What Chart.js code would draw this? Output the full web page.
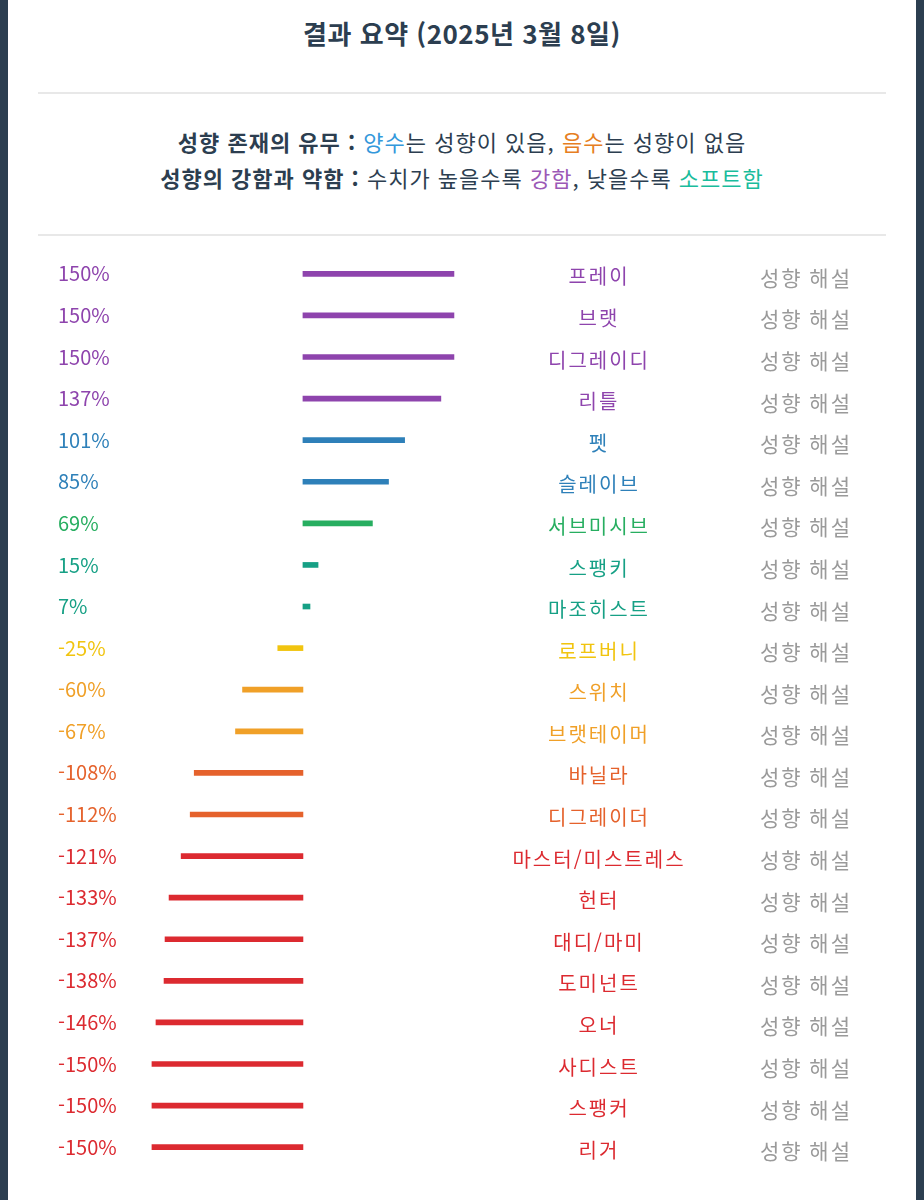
<!DOCTYPE html>
<html lang="ko">
<head>
<meta charset="utf-8">
<title>결과 요약</title>
<script src="https://cdn.jsdelivr.net/npm/chart.js@4"></script>
<style>
  html, body { margin: 0; padding: 0; }
  body { width: 924px; height: 1200px; background: #2c3e50; position: relative; overflow: hidden;
         font-family: "Noto Sans CJK KR", "Noto Sans", sans-serif; }
  .page { position: absolute; left: 8px; top: 0; width: 908px; height: 1200px; background: #fff; }
  h1 { position: absolute; left: 0; width: 100%; top: 13px; margin: 0; text-align: center;
       font-size: 26px; font-weight: bold; color: #2c3e50; line-height: 40px; letter-spacing: 0.5px; }
  .line { position: absolute; left: 30px; width: 848px; height: 2px; background: #e8e8e8; }
  .desc { position: absolute; left: 0; width: 100%; top: 123px; text-align: center; color: #2c3e50;
          font-size: 22px; line-height: 36px; letter-spacing: 1px; }
  .desc b { font-weight: bold; }
  #canvas { position: absolute; left: 0; top: 253px; }
</style>
</head>
<body>
<div class="page">
  <h1>결과 요약 (2025년 3월 8일)</h1>
  <div class="line" style="top:92px"></div>
  <div class="desc">
    <div><b>성향 존재의 유무 :</b> <span style="color:#3498db">양수</span>는 성향이 있음, <span style="color:#e67e22">음수</span>는 성향이 없음</div>
    <div><b>성향의 강함과 약함 :</b> 수치가 높을수록 <span style="color:#9b59b6">강함</span>, 낮을수록 <span style="color:#1abc9c">소프트함</span></div>
  </div>
  <div class="line" style="top:234px"></div>
  <canvas id="canvas" width="908" height="915"></canvas>
</div>

<script>
// 성향 이름
const names = ['프레이', '브랫', '디그레이디', '리틀', '펫', '슬레이브', '서브미시브', '스팽키', '마조히스트',
  '로프버니', '스위치', '브랫테이머', '바닐라', '디그레이더', '마스터/미스트레스', '헌터', '대디/마미',
  '도미넌트', '오너', '사디스트', '스팽커', '리거'];
// 수치 (%)
const values = [150, 150, 150, 137, 101, 85, 69, 15, 7, -25, -60, -67, -108, -112, -121, -133, -137, -138, -146, -150, -150, -150];
// 행별 색
const colors = ['#8e44ad', '#8e44ad', '#8e44ad', '#8e44ad', '#2e80b9', '#2e80b9', '#27ae60', '#16a085', '#16a085',
  '#f1c40f', '#f0a028', '#f0a028', '#e5622c', '#e5622c', '#dc2a30', '#dc2a30', '#dc2a30',
  '#dc2a30', '#dc2a30', '#dc2a30', '#dc2a30', '#dc2a30'];
const guideText = '성향 해설';

let ctx = document.getElementById('canvas').getContext('2d');

// 퍼센트, 이름, 해설 글자 그리기
const rowText = {
  id: 'rowText',
  afterDatasetsDraw(chart) {
    let c = chart.ctx;
    let meta = chart.getDatasetMeta(0);
    c.save();
    c.textBaseline = 'middle';
    meta.data.forEach((bar, i) => {
      let y = bar.y;
      c.fillStyle = colors[i];
      c.font = '20px "Noto Sans CJK KR"';
      c.letterSpacing = '0px';
      c.textAlign = 'left';
      c.fillText(values[i] + '%', 50, y);

      c.font = '20px "Noto Sans CJK KR"';
      c.letterSpacing = '2px';
      c.textAlign = 'center';
      c.fillText(names[i], 591, y + 3);

      c.fillStyle = '#9a9a9a';
      c.font = '21px "Noto Sans CJK KR"';
      c.letterSpacing = '2px';
      c.fillText(guideText, 798, y + 4);
    });
    c.restore();
  }
};

let myChart = new Chart(ctx, {
  type: 'bar',
  data: {
    labels: names,
    datasets: [{
      data: values,
      backgroundColor: colors,
      borderWidth: 0,
      barThickness: 5
    }]
  },
  options: {
    indexAxis: 'y',
    responsive: false,
    devicePixelRatio: 1,
    animation: false,
    layout: { padding: 0 },
    plugins: { legend: { display: false }, tooltip: { enabled: false } },
    scales: {
      x: { display: false, min: -293, max: 609 },
      y: { display: false }
    }
  },
  plugins: [rowText]
});
</script>
</body>
</html>
